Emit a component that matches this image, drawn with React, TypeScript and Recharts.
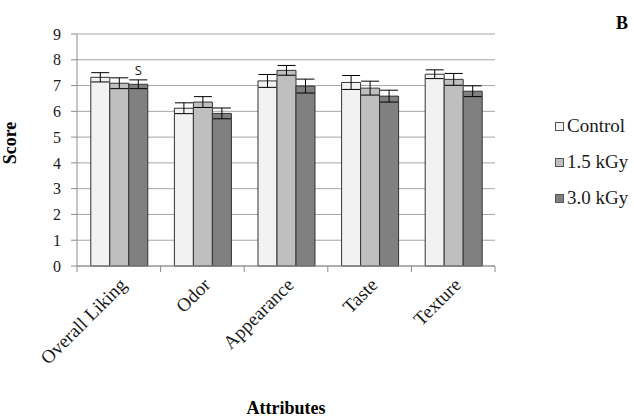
import { BarChart, Bar, XAxis, YAxis, CartesianGrid, Legend, ErrorBar, LabelList, Label } from 'recharts';

const categories = ['Overall Liking', 'Odor', 'Appearance', 'Taste', 'Texture'];
const controlScores = [7.32, 6.12, 7.18, 7.12, 7.44];
const lowDoseScores = [7.09, 6.36, 7.59, 6.9, 7.24];
const highDoseScores = [7.05, 5.92, 6.98, 6.59, 6.78];
const controlErr = [0.18, 0.21, 0.25, 0.27, 0.17];
const lowDoseErr = [0.21, 0.21, 0.19, 0.27, 0.23];
const highDoseErr = [0.17, 0.21, 0.27, 0.23, 0.21];
const highDoseMarks = ['S', '', '', '', ''];
const yTicks = [0, 1, 2, 3, 4, 5, 6, 7, 8, 9];

const series = [
  { key: 'control', name: 'Control', fill: '#f2f2f2' },
  { key: 'low', name: '1.5 kGy', fill: '#bfbfbf' },
  { key: 'high', name: '3.0 kGy', fill: '#808080' },
];

const data = categories.map((attr, i) => ({
  attr,
  control: controlScores[i],
  low: lowDoseScores[i],
  high: highDoseScores[i],
  controlErr: controlErr[i],
  lowErr: lowDoseErr[i],
  highErr: highDoseErr[i],
  mark: highDoseMarks[i],
}));

const serif = "'Liberation Serif', serif";

// category axis: label rotated, tick marks at the band edges like Excel
const AttrTick = (props: any) => {
  const { x, y, payload, index } = props;
  const half = payload.offset || 0;
  const tx = x + 9;
  const ty = y + 12;
  return (
    <g>
      <line x1={x - half} y1={y - 8} x2={x - half} y2={y - 2} stroke="#8c8c8c" />
      {index === categories.length - 1 && (
        <line x1={x + half} y1={y - 8} x2={x + half} y2={y - 2} stroke="#8c8c8c" />
      )}
      <text
        x={tx}
        y={ty}
        textAnchor="end"
        transform={`rotate(-45, ${tx}, ${ty})`}
        fontSize={19}
        fontFamily={serif}
        fill="#1a1a1a"
      >
        {payload.value}
      </text>
    </g>
  );
};

const renderLegend = () => (
  <div>
    {series.map(s => (
      <div key={s.key} style={{ display: 'flex', alignItems: 'center', height: 36 }}>
        <span style={{
          width: 7,
          height: 7,
          background: s.fill,
          border: '1px solid #555',
          marginRight: 3,
          display: 'inline-block',
          flexShrink: 0,
        }} />
        <span style={{ fontFamily: serif, fontSize: 19, color: '#1a1a1a', lineHeight: '20px' }}>{s.name}</span>
      </div>
    ))}
  </div>
);

export default function App() {
  return (
    <div style={{ position: 'absolute', left: 0, top: 0, width: 634, height: 419, background: '#fff' }}>
      <BarChart
        width={634}
        height={419}
        data={data}
        margin={{ top: 34, right: 139, left: 0, bottom: 0 }}
        barCategoryGap="16.5%"
        barGap={0}
      >
        <CartesianGrid vertical={false} stroke="#a6a6a6" />
        <XAxis
          dataKey="attr"
          height={153}
          interval={0}
          tickLine={false}
          axisLine={{ stroke: '#8c8c8c' }}
          tick={<AttrTick />}
        >
          <Label
            value="Attributes"
            position="insideBottom"
            offset={5}
            style={{ fontFamily: serif, fontSize: 18, fontWeight: 700, fill: '#000' }}
          />
        </XAxis>
        <YAxis
          width={77}
          domain={[0, 9]}
          ticks={yTicks}
          interval={0}
          tickSize={6}
          tickMargin={10}
          tickLine={{ stroke: '#8c8c8c' }}
          axisLine={{ stroke: '#8c8c8c' }}
          tick={{ fontFamily: serif, fontSize: 16, fill: '#1a1a1a' }}
        >
          <Label
            value="Score"
            angle={-90}
            position="insideLeft"
            offset={10}
            dy={-7}
            style={{ fontFamily: serif, fontSize: 18, fontWeight: 700, fill: '#000', textAnchor: 'middle' }}
          />
        </YAxis>
        <Legend
          layout="vertical"
          align="center"
          verticalAlign="middle"
          content={renderLegend}
          wrapperStyle={{ left: 555, top: 108, width: 79 }}
        />
        <Bar dataKey="control" name="Control" fill="#f2f2f2" stroke="#333" strokeWidth={1} isAnimationActive={false}>
          <ErrorBar dataKey="controlErr" width={9} stroke="#000" strokeWidth={1} />
        </Bar>
        <Bar dataKey="low" name="1.5 kGy" fill="#bfbfbf" stroke="#333" strokeWidth={1} isAnimationActive={false}>
          <ErrorBar dataKey="lowErr" width={9} stroke="#000" strokeWidth={1} />
        </Bar>
        <Bar dataKey="high" name="3.0 kGy" fill="#808080" stroke="#333" strokeWidth={1} isAnimationActive={false}>
          <ErrorBar dataKey="highErr" width={9} stroke="#000" strokeWidth={1} />
          <LabelList
            dataKey="mark"
            position="top"
            offset={9}
            style={{ fontFamily: '"Open Sans", sans-serif', fontSize: 13, fill: '#1a1a1a' }}
          />
        </Bar>
      </BarChart>
      <span style={{
        position: 'absolute',
        left: 616,
        top: 13,
        fontFamily: serif,
        fontSize: 18,
        fontWeight: 700,
      }}>B</span>
    </div>
  );
}
